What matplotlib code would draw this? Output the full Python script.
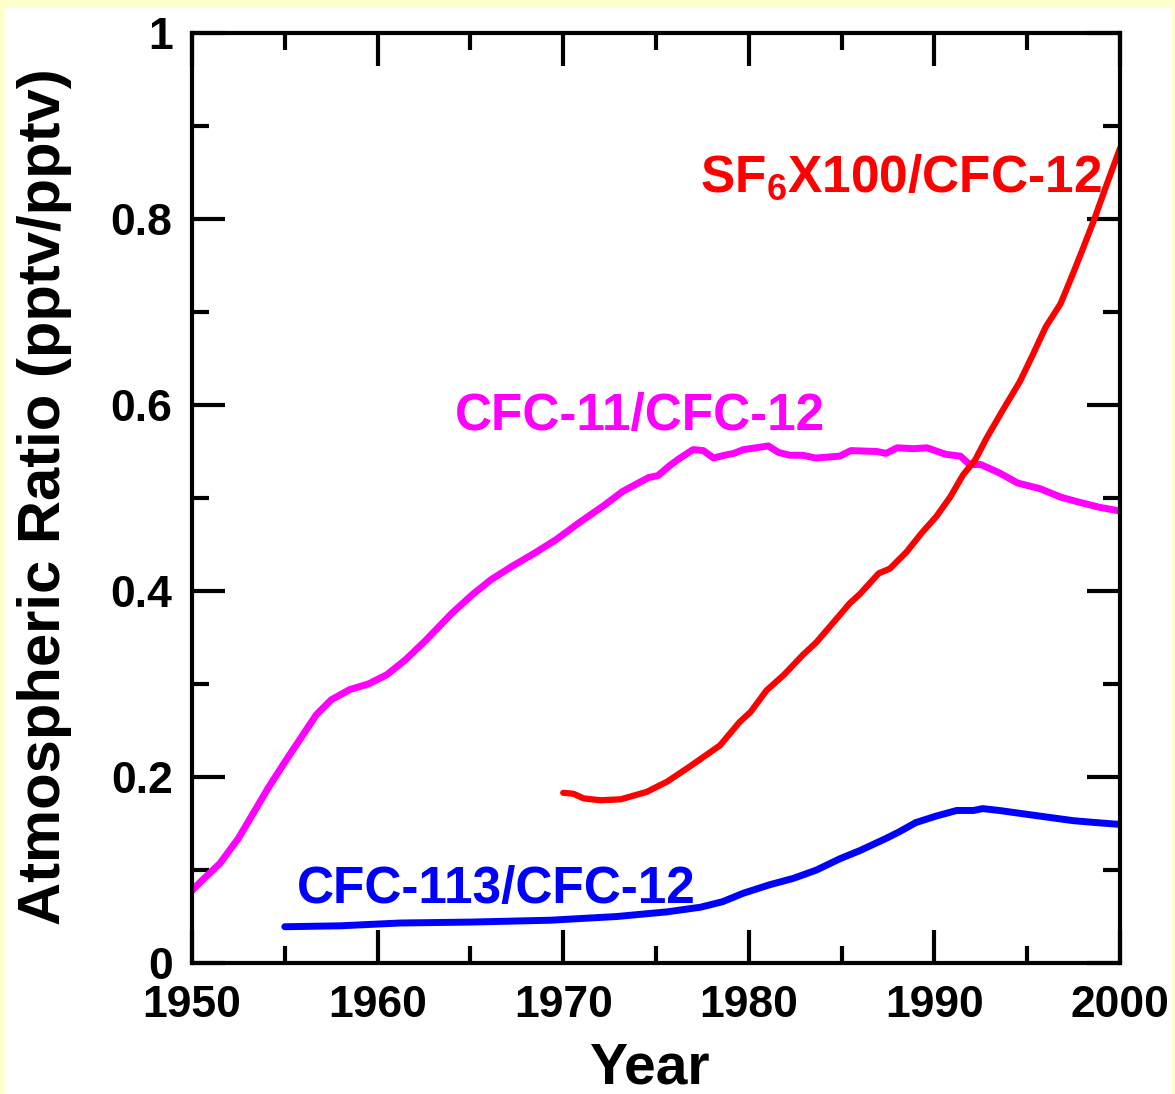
import matplotlib
matplotlib.use("Agg")
import matplotlib.pyplot as plt
from matplotlib.patches import Rectangle

plt.rcParams['font.family'] = ['Liberation Sans', 'DejaVu Sans']
plt.rcParams['font.weight'] = 'bold'
plt.rcParams['mathtext.fontset'] = 'custom'
plt.rcParams['mathtext.rm'] = 'Liberation Sans:bold'
plt.rcParams['mathtext.default'] = 'rm'

# CFC-11/CFC-12 ratio (magenta)
cfc11_years = [1950.0, 1950.5, 1951.5, 1952.5, 1953.3, 1954.1, 1955.0, 1955.9, 1956.7, 1957.5,
               1958.5, 1959.5, 1960.5, 1961.5, 1962.6, 1964.0, 1965.1, 1966.1, 1967.2, 1968.4,
               1969.6, 1970.9, 1972.2, 1973.2, 1974.6, 1975.1, 1975.75, 1976.3, 1977.0, 1977.55,
               1978.1, 1978.7, 1979.2, 1979.7, 1980.4, 1981.05, 1981.6, 1982.2, 1982.9, 1983.6,
               1984.9, 1985.5, 1986.9, 1987.4, 1988.0, 1988.85, 1989.6, 1990.6, 1991.4, 1991.9,
               1992.5, 1993.5, 1994.5, 1995.7, 1996.8, 1997.7, 1998.9, 2000.0]
cfc11_ratio = [0.078, 0.088, 0.107, 0.134, 0.161, 0.188, 0.216, 0.243, 0.267, 0.283,
               0.294, 0.300, 0.310, 0.326, 0.347, 0.376, 0.396, 0.412, 0.426, 0.440,
               0.455, 0.474, 0.492, 0.507, 0.522, 0.524, 0.535, 0.543, 0.552, 0.551,
               0.543, 0.546, 0.548, 0.552, 0.554, 0.556, 0.549, 0.546, 0.546, 0.543,
               0.545, 0.551, 0.550, 0.548, 0.554, 0.553, 0.554, 0.547, 0.545, 0.536,
               0.536, 0.527, 0.516, 0.510, 0.501, 0.496, 0.490, 0.486]

# SF6 x100 / CFC-12 ratio (red)
sf6_years = [1970.0, 1970.55, 1971.1, 1972.0, 1973.1, 1974.5, 1975.6, 1976.8, 1978.45, 1979.5,
             1980.1, 1980.95, 1981.9, 1982.9, 1983.65, 1985.45, 1986.0, 1987.0, 1987.6, 1988.5,
             1989.3, 1990.1, 1990.85, 1991.55, 1992.2, 1992.8, 1993.7, 1994.6, 1995.3, 1996.0,
             1996.8, 1997.4, 1998.0, 1998.6, 1999.3, 2000.0]
sf6_ratio = [0.183, 0.182, 0.177, 0.175, 0.176, 0.184, 0.195, 0.211, 0.234, 0.259,
             0.270, 0.293, 0.310, 0.331, 0.345, 0.387, 0.397, 0.419, 0.424, 0.442,
             0.462, 0.480, 0.501, 0.525, 0.541, 0.564, 0.595, 0.625, 0.654, 0.684,
             0.709, 0.738, 0.768, 0.799, 0.838, 0.876]

# CFC-113/CFC-12 ratio (blue)
cfc113_years = [1955.0, 1958.0, 1961.2, 1965.0, 1969.3, 1972.9, 1975.6, 1977.4, 1978.6, 1979.7,
                1981.1, 1982.4, 1983.65, 1984.9, 1986.0, 1987.4, 1988.1, 1989.0, 1990.1, 1991.2,
                1992.1, 1992.6, 1993.5, 1995.3, 1997.5, 1998.7, 2000.0]
cfc113_ratio = [0.039, 0.040, 0.043, 0.044, 0.046, 0.050, 0.055, 0.060, 0.066, 0.075,
                0.084, 0.091, 0.100, 0.112, 0.121, 0.134, 0.141, 0.151, 0.158, 0.164,
                0.164, 0.166, 0.164, 0.159, 0.153, 0.151, 0.149]

fig = plt.figure(figsize=(11.75, 10.94), dpi=100)
fig.patch.set_facecolor('#FFFFCC')
fig.patches.append(Rectangle((5 / 1175, 0), 1167 / 1175, 1086 / 1094,
                             transform=fig.transFigure, facecolor='white',
                             edgecolor='none', zorder=-10))

ax = fig.add_axes([192 / 1175, 131 / 1094, 928 / 1175, 930 / 1094])
ax.set_facecolor('white')

ax.plot(cfc11_years, cfc11_ratio, color='#FF00FF', lw=5, solid_capstyle='round')
ax.plot(sf6_years, sf6_ratio, color='#FF0000', lw=4.5, solid_capstyle='round')
ax.plot(cfc113_years, cfc113_ratio, color='#0000FF', lw=5, solid_capstyle='round')

ax.text(1964.17, 0.573, 'CFC-11/CFC-12', color='#FF00FF', fontsize=37,
        fontweight='bold', ha='left', va='baseline')
ax.text(1955.63, 0.0645, 'CFC-113/CFC-12', color='#0000FF', fontsize=37,
        fontweight='bold', ha='left', va='baseline')
ax.text(1977.37, 0.829, 'SF$_6$X100/CFC-12', color='#FF0000', fontsize=37,
        fontweight='bold', ha='left', va='baseline')

ax.set_xlim(1950, 2000)
ax.set_ylim(0, 1)
ax.set_xticks([1950, 1960, 1970, 1980, 1990, 2000])
ax.set_xticks([1955, 1965, 1975, 1985, 1995], minor=True)
ax.set_yticks([0, 0.2, 0.4, 0.6, 0.8, 1.0])
ax.set_yticklabels(['0', '0.2', '0.4', '0.6', '0.8', '1'])
ax.set_yticks([0.1, 0.3, 0.5, 0.7, 0.9], minor=True)

for s in ax.spines.values():
    s.set_linewidth(3)
ax.tick_params(which='both', direction='in', top=True, right=True, width=3,
               labelsize=32)
ax.tick_params(which='major', length=24)
ax.tick_params(which='minor', length=12)
ax.tick_params(axis='y', which='major', pad=14)
ax.tick_params(axis='x', which='major', pad=16)
for lab in ax.get_xticklabels() + ax.get_yticklabels():
    lab.set_fontweight('bold')

fig.text(45 / 1175, 0.5457, 'Atmospheric Ratio (pptv/pptv)', rotation=90,
         fontsize=43, fontweight='bold', ha='center', va='center')
fig.text(650 / 1175, 11 / 1094, 'Year', fontsize=41, fontweight='bold',
         ha='center', va='baseline')

fig.savefig('out.png', dpi=100, facecolor=fig.get_facecolor())
